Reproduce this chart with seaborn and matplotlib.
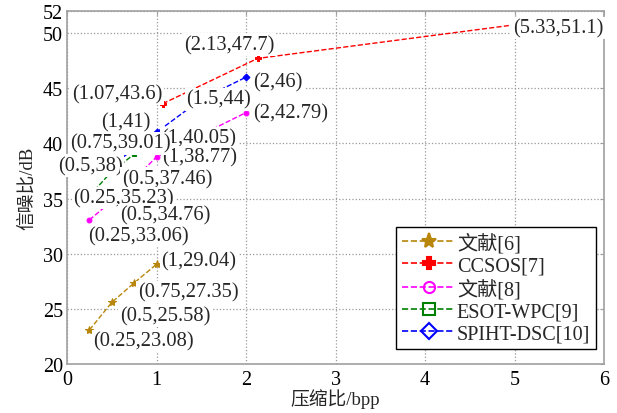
import matplotlib
matplotlib.use("Agg")
import matplotlib.pyplot as plt
import seaborn as sns
import pandas as pd
from matplotlib.lines import Line2D

# ---- data ----
names = ["文献[6]", "CCSOS[7]", "文献[8]", "ESOT-WPC[9]", "SPIHT-DSC[10]"]
x_ref6 = [0.25, 0.5, 0.75, 1.0]
y_ref6 = [23.08, 25.58, 27.35, 29.04]
x_ccsos = [1.07, 2.13, 5.33]
y_ccsos = [43.6, 47.7, 51.1]
x_ref8 = [0.25, 0.5, 1.0, 2.0]
y_ref8 = [33.06, 34.76, 38.77, 42.79]
x_esot = [0.25, 0.5, 0.75, 1.0]
y_esot = [35.23, 37.46, 39.01, 40.05]
x_spiht = [0.5, 1.0, 1.5, 2.0]
y_spiht = [38.0, 41.0, 44.0, 46.0]
x_ticks = [0, 1, 2, 3, 4, 5, 6]
y_ticks = [20, 25, 30, 35, 40, 45, 50, 52]

xs = [x_ref6, x_ccsos, x_ref8, x_esot, x_spiht]
ys = [y_ref6, y_ccsos, y_ref8, y_esot, y_spiht]

colors = ["#B8860B", "#FF0000", "#FF00FF", "#008000", "#0000FF"]
markers = ["*", "P", "o", "s", "D"]
msizes = [6, 4, 3.5, 3.5, 3.5]

sns.set_style("white")
FONT = ["Liberation Serif", "Noto Sans CJK SC"]
plt.rcParams["font.family"] = FONT
FS = 14.8

fig = plt.figure(figsize=(6.17, 4.14), dpi=100)
ax = fig.add_axes([67 / 617, 1 - 365 / 414, (604 - 67) / 617, (365 - 12) / 414])

for name, x, y, c, m, ms in zip(names, xs, ys, colors, markers, msizes):
    df = pd.DataFrame({"x": x, "y": y})
    sns.lineplot(data=df, x="x", y="y", ax=ax, color=c, linestyle="--",
                 linewidth=1.0, marker=m, markersize=ms, markeredgecolor=c,
                 markerfacecolor=c, sort=False, estimator=None, zorder=2)

# annotations: (series index, point index, dx px, dy px (down positive))
ann = [
    (1, 2, -31, 7),
    (1, 1, -74, -14),
    (4, 3, 7, 5),
    (1, 0, -91, -10),
    (4, 2, -15, 0),
    (2, 3, 7, 0),
    (4, 1, -55, -10),
    (3, 3, 5, -5),
    (2, 2, 6, 0),
    (3, 2, -64, -11),
    (4, 0, -54, 0),
    (3, 1, 10, 7),
    (3, 0, -16, 2),
    (2, 1, 8, 14),
    (2, 0, -1, 16),
    (0, 3, 5, -3),
    (0, 2, 4, 9),
    (0, 1, 8, 13),
    (0, 0, 4, 11),
]
for k, (si, pi, dx, dy) in enumerate(ann):
    xv, yv = xs[si][pi], ys[si][pi]
    lab = "({:g},{:g})".format(xv, yv)
    ax.annotate(lab, xy=(xv, yv), xytext=(dx * 0.72, -dy * 0.72),
                textcoords="offset points", ha="left", va="center",
                fontsize=FS, family=FONT, zorder=5 + k,
                bbox=dict(boxstyle="square,pad=0.08", fc="white", ec="none"))

ax.set_xlim(0, 6)
ax.set_ylim(20, 52)
ax.set_xticks(x_ticks)
ax.set_yticks(y_ticks)
ax.grid(True, linestyle=":", color="#999999", linewidth=0.9)
for s in ax.spines.values():
    s.set_color("#A0A0A0")
    s.set_linewidth(1.2)
ax.tick_params(direction="in", length=3, color="#A0A0A0", labelsize=14.5,
               labelcolor="black", pad=3, top=True, right=True)
ax.tick_params(axis="x", pad=4)
ax.set_xlabel("压缩比/bpp", fontsize=13.5, family=FONT, labelpad=0)
ax.set_ylabel("信噪比/dB", fontsize=13.5, family=FONT, labelpad=5)

handles = [Line2D([0], [0], color=c, linestyle="--", linewidth=1.2, marker=m,
                  markersize=11 if m == "*" else 8, markeredgecolor=c,
                  markerfacecolor=(c if m in ("*", "P") else "none"),
                  markeredgewidth=1.5)
           for c, m in zip(colors, markers)]
leg = ax.legend(handles, names, loc="lower right", bbox_to_anchor=(0.993, 0.03),
                frameon=True, fancybox=False, edgecolor="black",
                framealpha=1, handlelength=2.6, handletextpad=0.1,
                labelspacing=0.15, borderpad=0.3, borderaxespad=0.2,
                prop={"family": FONT, "size": 14.5})
leg.get_frame().set_linewidth(1.0)
leg.set_zorder(30)

fig.savefig("out.png", dpi=100)
